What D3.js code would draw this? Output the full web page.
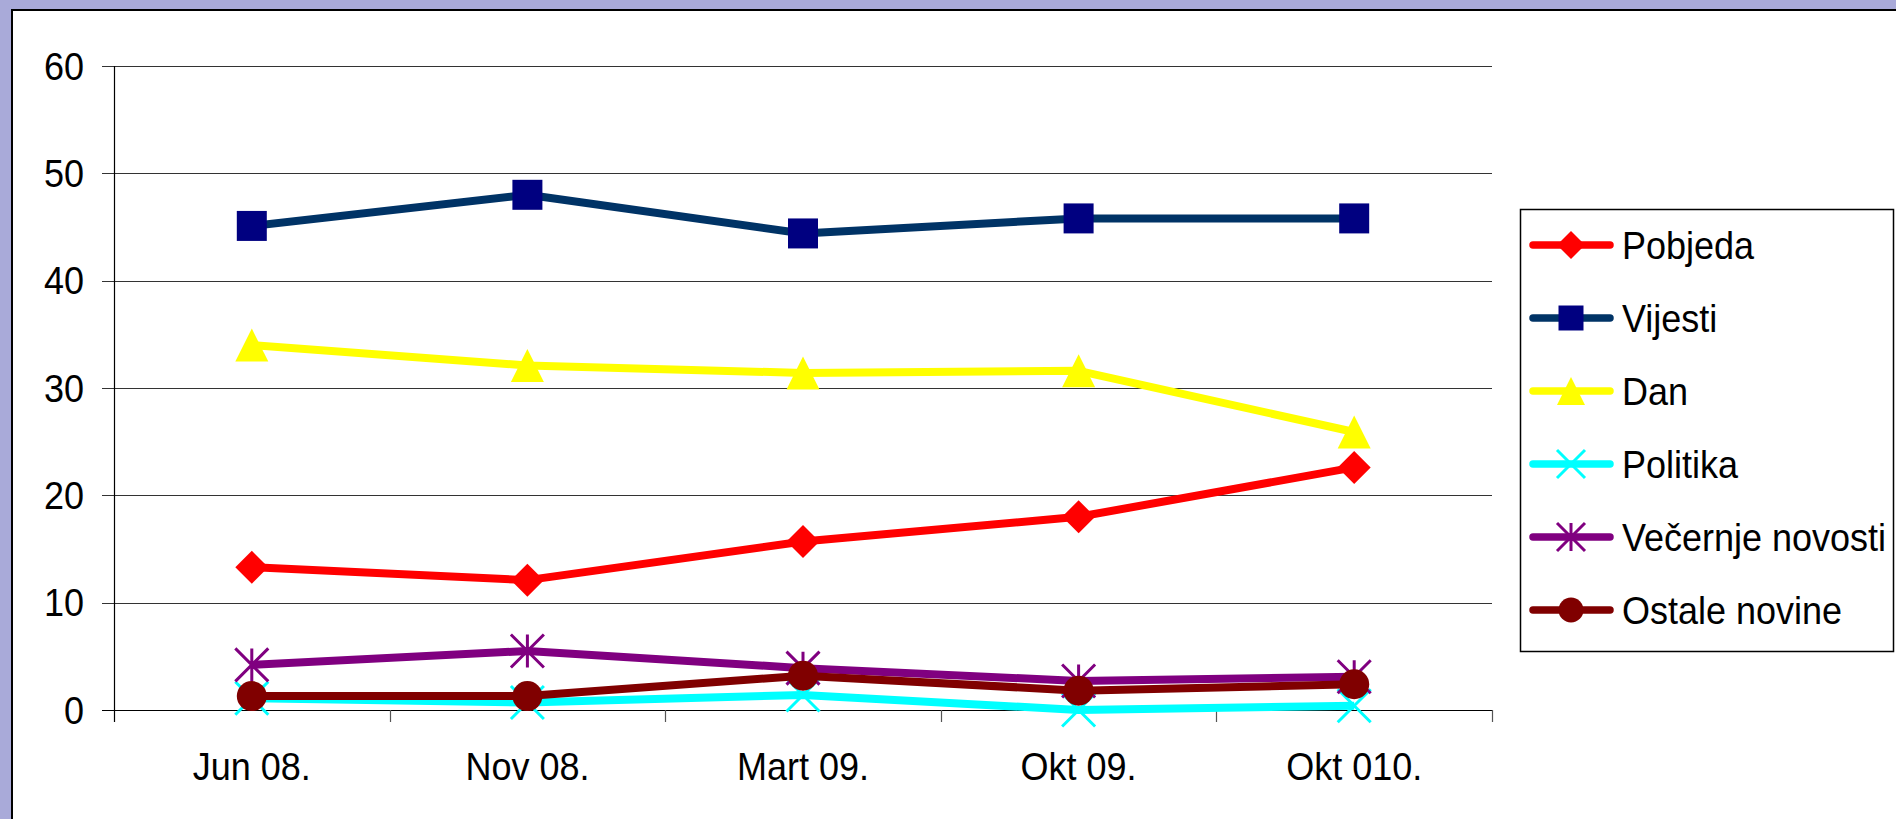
<!DOCTYPE html>
<html>
<head>
<meta charset="utf-8">
<script src="https://cdn.jsdelivr.net/npm/d3@7"></script>
<style>
  html, body { margin: 0; padding: 0; background: #A9AAD9; overflow: hidden; }
  svg { display: block; }
  text { font-family: "Liberation Sans", Arial, sans-serif; fill: #000; }
</style>
</head>
<body>
<svg id="chart" width="1896" height="819"></svg>
<script>
// ---- data ----
const categories = ["Jun 08.", "Nov 08.", "Mart 09.", "Okt 09.", "Okt 010."];
const pobjeda  = [13.3, 12.1, 15.7, 18.0, 22.6];
const vijesti  = [45.1, 48.0, 44.4, 45.8, 45.8];
const dan      = [34.0, 32.1, 31.4, 31.6, 25.9];
const politika = [1.1, 0.7, 1.4, 0.0, 0.4];
const vecernje = [4.2, 5.5, 3.9, 2.7, 3.1];
const ostale   = [1.3, 1.3, 3.2, 1.8, 2.4];
const yTicks   = [0, 10, 20, 30, 40, 50, 60];

const seriesNames = ["Pobjeda", "Vijesti", "Dan", "Politika", "Večernje novosti", "Ostale novine"];
const seriesValues = [pobjeda, vijesti, dan, politika, vecernje, ostale];
const lineColors   = ["#FF0000", "#003366", "#FFFF00", "#00FFFF", "#800080", "#800000"];
const markerColors = ["#FF0000", "#000080", "#FFFF00", "#00FFFF", "#800080", "#800000"];
const markerTypes  = ["diamond", "square", "triangle", "x", "star", "circle"];

// ---- layout ----
const svg = d3.select("#chart");
const plot = { left: 114, right: 1492, top: 66, bottom: 710 };

svg.append("rect")
  .attr("x", 12).attr("y", 10).attr("width", 1900).attr("height", 820)
  .attr("fill", "#fff").attr("stroke", "#000").attr("stroke-width", 2);

const x = d3.scaleBand().domain(categories).range([plot.left, plot.right]).padding(0);
const y = d3.scaleLinear().domain([0, 60]).range([plot.bottom, plot.top]);

// gridlines
svg.append("g").selectAll("line").data(yTicks).join("line")
  .attr("x1", plot.left - 12).attr("x2", plot.right)
  .attr("y1", d => Math.round(y(d)) + 0.5).attr("y2", d => Math.round(y(d)) + 0.5)
  .attr("stroke", d => d === 0 ? "#000" : "#333").attr("stroke-width", 1.2);

// y axis line
svg.append("line")
  .attr("x1", plot.left + 0.5).attr("x2", plot.left + 0.5)
  .attr("y1", plot.top).attr("y2", plot.bottom + 12)
  .attr("stroke", "#000").attr("stroke-width", 1.2);

// text helper: slightly taller glyphs like the reference
function tallText(g, tx, ty, str, anchor) {
  g.append("text")
    .attr("transform", `translate(${tx},${ty}) scale(1,1.07)`)
    .attr("text-anchor", anchor).attr("font-size", 36)
    .text(str);
}

// y labels
const yl = svg.append("g");
yTicks.forEach(d => tallText(yl, 84, y(d) + 13.5, d, "end"));

// x ticks at category boundaries
const boundaries = categories.map(c => x(c)).concat([plot.right]);
svg.append("g").selectAll("line").data(boundaries.slice(1)).join("line")
  .attr("x1", d => Math.round(d) + 0.5).attr("x2", d => Math.round(d) + 0.5)
  .attr("y1", plot.bottom).attr("y2", plot.bottom + 12)
  .attr("stroke", "#555").attr("stroke-width", 1.2);

// x labels
const xl = svg.append("g");
categories.forEach(c => tallText(xl, x(c) + x.bandwidth() / 2, 780, c, "middle"));

// marker drawing
function markerPath(type, s) {
  const p = d3.path();
  const h = s / 2;
  if (type === "square") {
    p.rect(-h, -h, s, s);
  } else if (type === "diamond") {
    p.moveTo(0, -h); p.lineTo(h, 0); p.lineTo(0, h); p.lineTo(-h, 0); p.closePath();
  } else if (type === "triangle") {
    p.moveTo(0, -h); p.lineTo(h, h); p.lineTo(-h, h); p.closePath();
  } else if (type === "circle") {
    p.moveTo(h, 0); p.arc(0, 0, h, 0, Math.PI * 2);
  } else if (type === "x") {
    p.moveTo(-h, -h); p.lineTo(h, h); p.moveTo(h, -h); p.lineTo(-h, h);
  } else if (type === "star") {
    p.moveTo(-h, -h); p.lineTo(h, h); p.moveTo(h, -h); p.lineTo(-h, h);
    p.moveTo(0, -h); p.lineTo(0, h);
  }
  return p.toString();
}
function drawMarker(g, type, color, cx, cy, s) {
  const stroked = (type === "x" || type === "star");
  g.append("path")
    .attr("d", markerPath(type, s))
    .attr("transform", `translate(${cx},${cy})`)
    .attr("fill", stroked ? "none" : color)
    .attr("stroke", stroked ? color : "none")
    .attr("stroke-width", stroked ? 3 : 0);
}
const markerSize = { square: 30, diamond: 33, triangle: 33, circle: 30, x: 33, star: 33 };

const line = d3.line()
  .x((d, i) => x(categories[i]) + x.bandwidth() / 2)
  .y(d => y(d));

seriesValues.forEach((vals, si) => {
  const g = svg.append("g");
  g.append("path").datum(vals)
    .attr("d", line)
    .attr("fill", "none")
    .attr("stroke", lineColors[si])
    .attr("stroke-width", 8)
    .attr("stroke-linejoin", "round");
  vals.forEach((v, i) => {
    drawMarker(g, markerTypes[si], markerColors[si],
      x(categories[i]) + x.bandwidth() / 2, y(v), markerSize[markerTypes[si]]);
  });
});

// legend
const lg = svg.append("g");
lg.append("rect").attr("x", 1520.5).attr("y", 209.5).attr("width", 373).attr("height", 442)
  .attr("fill", "#fff").attr("stroke", "#000").attr("stroke-width", 1.5);
seriesNames.forEach((name, i) => {
  const ly = 245 + i * 73;
  lg.append("line").attr("x1", 1533).attr("x2", 1610).attr("y1", ly).attr("y2", ly)
    .attr("stroke", lineColors[i]).attr("stroke-width", 7.5).attr("stroke-linecap", "round");
  drawMarker(lg, markerTypes[i], markerColors[i], 1571, ly, markerTypes[i] === "square" || markerTypes[i] === "circle" ? 25 : 28);
  tallText(lg, 1622, ly + 13.5, name, "start");
});
</script>
</body>
</html>
